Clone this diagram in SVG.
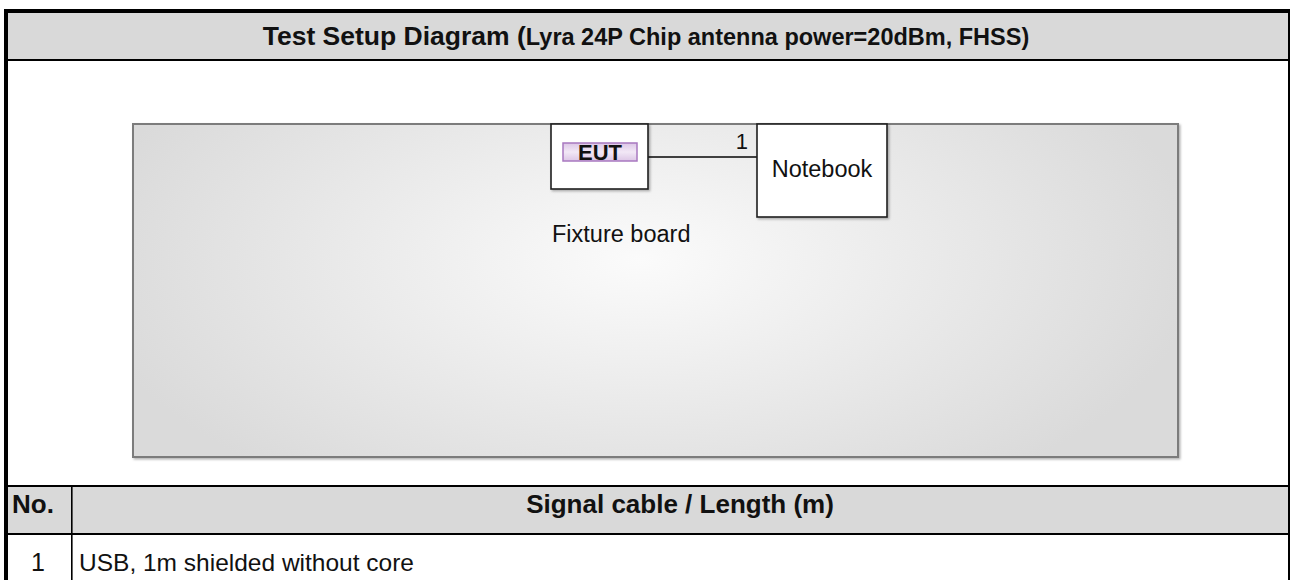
<svg xmlns="http://www.w3.org/2000/svg" width="1290" height="580" viewBox="0 0 1290 580">
<style>
.t{font-family:"Liberation Sans",Arial,sans-serif;fill:#111}
.b{font-weight:bold}
.node{fill:#fff;stroke:#1e1e1e;stroke-width:1.6}
.line{fill:#000}
</style>
<defs>
<radialGradient id="bg" cx="640" cy="260" r="560" gradientUnits="userSpaceOnUse" gradientTransform="translate(0,130) scale(1,0.5)">
<stop offset="0" stop-color="#fbfbfb"/>
<stop offset="1" stop-color="#dadada"/>
</radialGradient>
<linearGradient id="pg" x1="0" y1="0" x2="0" y2="1">
<stop offset="0" stop-color="#dcc6e6"/>
<stop offset="0.5" stop-color="#f2e8f6"/>
<stop offset="1" stop-color="#dcc6e6"/>
</linearGradient>
<filter id="sh" x="-5%" y="-5%" width="115%" height="120%">
<feDropShadow dx="1.5" dy="1.5" stdDeviation="1" flood-color="#000" flood-opacity="0.3"/>
</filter>
</defs>
<rect width="1290" height="580" fill="#fff"/>
<g id="table">
<rect x="8" y="13" width="1280" height="46" fill="#d9d9d9"/>
<rect x="8" y="487" width="1280" height="46" fill="#d9d9d9"/>
<rect class="line" x="4" y="9" width="1286" height="4"/>
<rect class="line" x="4" y="9" width="4" height="571"/>
<rect class="line" x="1288" y="9" width="2" height="571"/>
<rect class="line" x="8" y="59" width="1280" height="2"/>
<rect class="line" x="8" y="485" width="1280" height="2"/>
<rect class="line" x="8" y="533" width="1280" height="2"/>
<rect class="line" x="71" y="487" width="1.6" height="93"/>
<text class="t b" x="646" y="45" text-anchor="middle" font-size="26.5">Test Setup Diagram (<tspan font-size="23.5">Lyra 24P Chip antenna power=20dBm, FHSS)</tspan></text>
<text class="t b" x="12" y="513" font-size="26">No.</text>
<text class="t b" x="680" y="513" text-anchor="middle" font-size="26">Signal cable / Length (m)</text>
<text class="t" x="38" y="571" text-anchor="middle" font-size="25">1</text>
<text class="t" x="79" y="571" font-size="24.5">USB, 1m shielded without core</text>
</g>
<g id="fixture-board">
<rect x="133" y="124" width="1045" height="333" fill="url(#bg)" stroke="#7c7c7c" stroke-width="2" filter="url(#sh)"/>
<text class="t" x="552" y="242" font-size="23.5" fill="#2a2030">Fixture board</text>
</g>
<g id="connectors">
<line x1="648" y1="157" x2="757" y2="157" stroke="#404040" stroke-width="2"/>
<text class="t" x="748" y="149" text-anchor="end" font-size="22" fill="#333">1</text>
</g>
<g id="eut">
<rect class="node" x="551" y="124" width="97" height="65" filter="url(#sh)"/>
<rect x="563" y="143" width="74" height="18" fill="url(#pg)" stroke="#a878c0" stroke-width="1.5"/>
<text class="t b" x="600" y="160" text-anchor="middle" font-size="22">EUT</text>
</g>
<g id="notebook">
<rect class="node" x="757" y="124" width="130" height="93" filter="url(#sh)"/>
<text class="t" x="822" y="177" text-anchor="middle" font-size="23.5" fill="#1c1c34">Notebook</text>
</g>
</svg>
